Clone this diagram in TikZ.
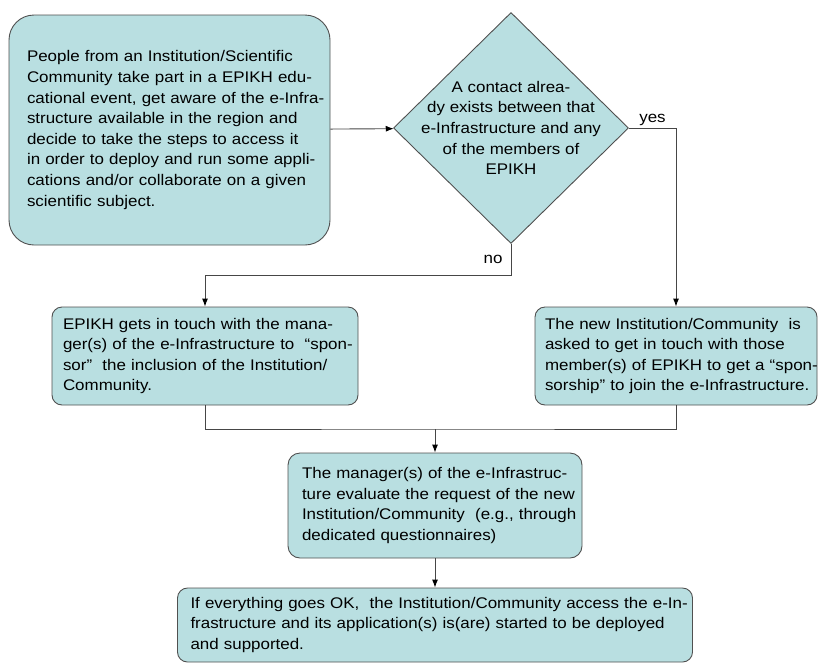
\documentclass[tikz,border=0pt]{standalone}
\usepackage{fontspec}
\setmainfont{Liberation Sans}[FakeStretch=1.10]
\usepackage{tikz}
\usetikzlibrary{shapes.geometric, arrows.meta}
\definecolor{boxfill}{RGB}{185,223,225}
\definecolor{boxline}{RGB}{80,80,80}
\definecolor{linegray}{RGB}{70,70,70}
\newcommand{\flowfont}{\fontsize{15.4}{20.6}\selectfont}
\tikzstyle{stepbox} = [rectangle,
					  rounded corners=10pt,
					  draw=boxline,
					  fill=boxfill,
					  line width=0.9pt,
					  align=left,
					  inner xsep=5pt,
					  font=\flowfont,
					  execute at begin node={\rightskip=-40pt plus 1fil},
					 ]
\tikzstyle{decision} = [diamond,
					   draw=boxline,
					   fill=boxfill,
					   line width=0.9pt,
					   minimum width=235pt,
					   minimum height=231pt,
					   inner sep=0pt,
					  ]
\tikzstyle{answer} = [font=\flowfont]
\tikzstyle{line} = [draw=linegray, line width=0.9pt]
\tikzstyle{arrow} = [line, ->, >={Latex[length=8pt,width=6pt,color=black]}]

\begin{document}
\begin{tikzpicture}[x=1pt, y=-1pt]

\useasboundingbox (0,0) rectangle (818,664);

\node (start) [stepbox, rounded corners=25pt, text width=285pt, minimum width=321pt, minimum height=230pt] at (169.5,130) {People from an Institution/Scientific\\
Community take part in a EPIKH edu-\\
cational event, get aware of the e-Infra-\\
structure available in the region and\\
decide to take the steps to access it\\
in order to deploy and run some appli-\\
cations and/or collaborate on a given\\
scientific subject.};
\node (check) [decision, node distance=341.5pt, right of=start, yshift=2pt,
  label={[answer, align=center]center:A contact alrea-\\dy exists between that\\e-Infrastructure and any\\of the members of\\EPIKH}] {};
\node (sponsor) [stepbox, text width=284pt, minimum width=306pt, minimum height=98pt, node distance=226pt, below of=start, xshift=35.5pt] {EPIKH gets in touch with the mana-\\
ger(s) of the e-Infrastructure to\ \ “spon-\\
sor”\ \ the inclusion of the Institution/\\
Community.};
\node (ask) [stepbox, text width=262pt, minimum width=282pt, minimum height=98pt, node distance=228pt, below of=check, xshift=165pt] {The new Institution/Community\ \ is\\
asked to get in touch with those\\
member(s) of EPIKH to get a “spon-\\
sorship” to join the e-Infrastructure.};
\node (evaluate) [stepbox, rounded corners=12pt, text width=266pt, minimum width=294pt, minimum height=105pt, node distance=149.5pt, below of=sponsor, xshift=230pt] {The manager(s) of the e-Infrastruc-\\
ture evaluate the request of the new\\
Institution/Community\ \ (e.g., through\\
dedicated questionnaires)};
\node (access) [stepbox, text width=489pt, minimum width=515pt, minimum height=74pt, node distance=119.5pt, below of=evaluate] {If everything goes OK,\ \ the Institution/Community access the e-In-\\
frastructure and its application(s) is(are) started to be deployed\\
and supported.};

\coordinate (merge) at (435,429);

\draw [arrow] (start) -- (check);
\draw [arrow] (check.east) -| node[answer, pos=0.25, above, inner sep=2pt] {yes} (ask.north);
\draw [arrow] (check.south) -- ++(0,31) node[answer, midway, left, inner xsep=8pt] {no} -| (sponsor.north);
\draw [line] (sponsor.south) |- (merge) -| (ask.south);
\draw [arrow] (merge) -- (evaluate);
\draw [arrow] (evaluate) -- (access);

\end{tikzpicture}
\end{document}
